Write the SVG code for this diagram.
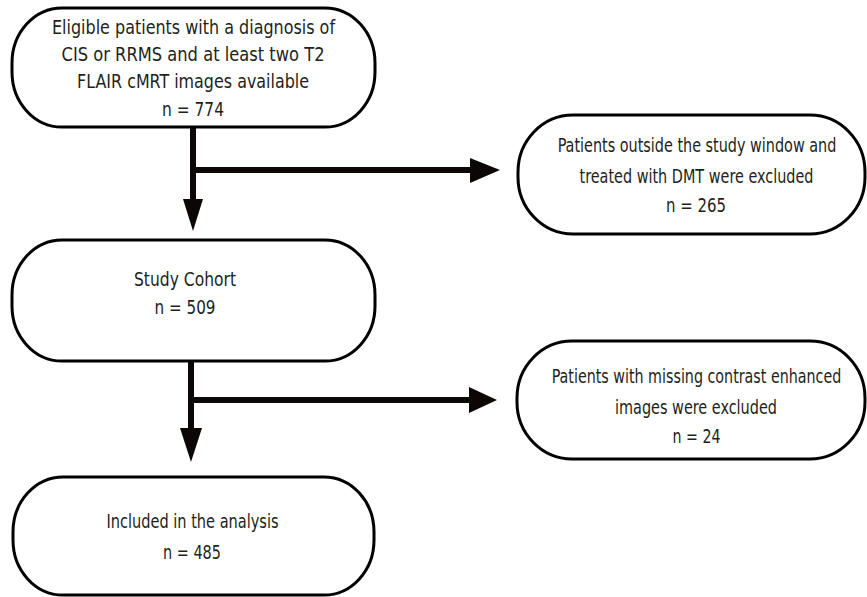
<svg xmlns="http://www.w3.org/2000/svg" width="867" height="597" viewBox="0 0 867 597">
<style>
.box{fill:#fff;stroke:#000;stroke-width:3}
.t{font-family:"DejaVu Sans Condensed","DejaVu Sans",sans-serif;font-stretch:condensed;font-size:19.5px;fill:#231f20;text-anchor:middle}
.ln{stroke:#0d0606;stroke-width:6;fill:none}
.ah{fill:#0d0606}
</style>
<rect width="867" height="597" fill="#fff"/>
<g id="connectors">
<line class="ln" x1="193" y1="127" x2="193" y2="202"/>
<line class="ln" x1="190" y1="170" x2="472" y2="170"/>
<polygon class="ah" points="183,199 203,199 193,231"/>
<polygon class="ah" points="470,158 470,183 500,170"/>
<line class="ln" x1="191" y1="361" x2="191" y2="431"/>
<line class="ln" x1="188" y1="400" x2="471" y2="400"/>
<polygon class="ah" points="180,428 202,428 191,462"/>
<polygon class="ah" points="469,387 469,413 497,400"/>
</g>
<g id="eligible">
<rect class="box" x="12" y="8" width="363" height="119" rx="50" ry="55"/>
<text class="t" x="193.5" y="34" textLength="283" lengthAdjust="spacingAndGlyphs">Eligible patients with a diagnosis of</text>
<text class="t" x="193" y="61" textLength="263" lengthAdjust="spacingAndGlyphs">CIS or RRMS and at least two T2</text>
<text class="t" x="193" y="88" textLength="232" lengthAdjust="spacingAndGlyphs">FLAIR cMRT images available</text>
<text class="t" x="193" y="116" textLength="62" lengthAdjust="spacingAndGlyphs">n = 774</text>
</g>
<g id="excluded1">
<rect class="box" x="518" y="115" width="347" height="119" rx="55" ry="57"/>
<text class="t" x="0" y="152" transform="translate(697 0) scale(0.821 1)">Patients outside the study window and</text>
<text class="t" x="696.5" y="183" textLength="234" lengthAdjust="spacingAndGlyphs">treated with DMT were excluded</text>
<text class="t" x="696" y="212" textLength="60" lengthAdjust="spacingAndGlyphs">n = 265</text>
</g>
<g id="cohort">
<rect class="box" x="12" y="240" width="363" height="121" rx="50" ry="55"/>
<text class="t" x="185" y="286" textLength="102" lengthAdjust="spacingAndGlyphs">Study Cohort</text>
<text class="t" x="185" y="314" textLength="61" lengthAdjust="spacingAndGlyphs">n = 509</text>
</g>
<g id="excluded2">
<rect class="box" x="517" y="341" width="348" height="118" rx="55" ry="57"/>
<text class="t" x="0" y="383" transform="translate(696.5 0) scale(0.815 1)">Patients with missing contrast enhanced</text>
<text class="t" x="696" y="414" textLength="162" lengthAdjust="spacingAndGlyphs">images were excluded</text>
<text class="t" x="696.5" y="443" textLength="48" lengthAdjust="spacingAndGlyphs">n = 24</text>
</g>
<g id="included">
<rect class="box" x="13" y="477" width="361" height="118" rx="50" ry="55"/>
<text class="t" x="192.5" y="528" textLength="172" lengthAdjust="spacingAndGlyphs">Included in the analysis</text>
<text class="t" x="192" y="559" textLength="58" lengthAdjust="spacingAndGlyphs">n = 485</text>
</g>
</svg>
